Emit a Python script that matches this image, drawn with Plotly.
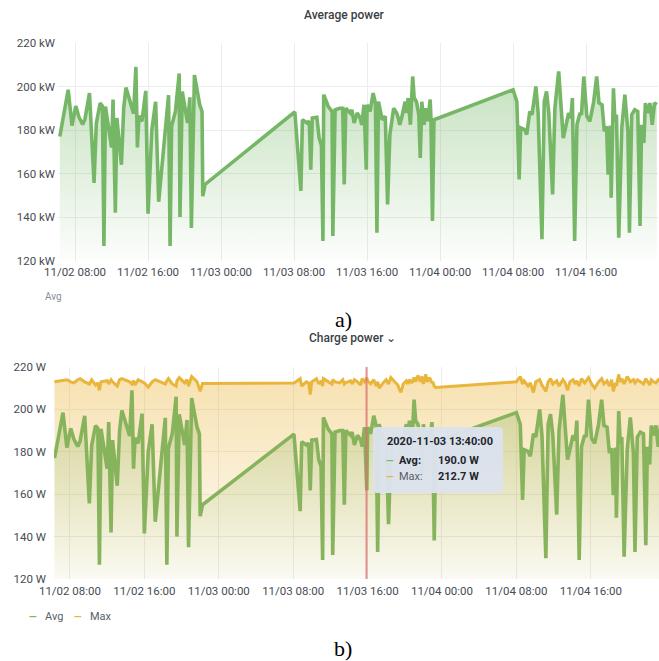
import plotly.graph_objects as go

W, H = 659, 661

# ---------------- data ----------------
day2_times = ["06:20", "07:15", "07:40", "08:05", "08:25", "08:50", "09:05", "09:35", "10:05", "10:20",
              "10:45", "11:00", "11:10", "11:20", "12:00", "12:10", "12:25", "12:35", "13:05", "13:20",
              "13:35", "14:25", "14:40", "14:50", "15:00", "15:20", "15:45", "16:00", "16:25", "16:50",
              "17:10", "18:15", "18:25", "18:35", "19:00", "19:25", "19:30", "19:45", "20:20", "20:35",
              "20:45", "21:05", "21:40", "21:55", "22:00", "22:15"]
day3_times = ["08:05", "08:45", "08:55", "09:25", "09:40", "09:50", "10:00", "10:30", "10:45", "11:00",
              "11:10", "11:15", "11:45", "12:10", "12:15", "12:30", "13:00", "13:20", "13:30", "13:40",
              "14:10", "14:20", "14:35", "14:55", "15:15", "15:25", "15:40", "15:55", "16:00", "16:20",
              "16:40", "16:55", "17:05", "17:15", "17:40", "18:00", "18:15", "18:30", "18:55", "19:15",
              "19:25", "19:35", "19:50", "20:10", "20:20", "20:30", "20:45", "21:00", "21:10", "21:25",
              "21:40", "21:50", "22:00", "22:15", "22:25", "22:40", "22:55", "23:00", "23:10", "23:20"]
day4_times = ["08:00", "08:25", "08:40", "08:50", "09:15", "09:30", "09:50", "10:05", "10:30", "10:45",
              "11:10", "11:25", "11:40", "11:55", "12:20", "12:35", "13:00", "13:15", "13:30", "13:45",
              "14:05", "14:20", "14:30", "14:45", "15:00", "15:20", "15:30", "15:45", "16:05", "16:25",
              "16:50", "17:10", "17:25", "17:45", "18:00", "18:15", "18:25", "18:40", "18:45", "19:00",
              "19:10", "19:20", "19:35", "19:55", "20:15", "20:35", "20:45", "21:00", "21:20", "21:40",
              "21:55", "22:05", "22:20", "22:30", "22:45", "23:00", "23:15", "23:30", "23:45"]
times = ([f"2020-11-02 {t}" for t in day2_times] + [f"2020-11-03 {t}" for t in day3_times]
         + [f"2020-11-04 {t}" for t in day4_times])

avg_power = [177, 198.5, 182, 191, 186, 182.5, 185, 197, 155.7, 183,
             192.4, 191, 126.7, 190.8, 172, 194, 142, 185.5, 164, 190,
             199.5, 187.5, 209, 172, 186.5, 184, 198, 141.5, 180, 193,
             147, 196, 126.7, 181.7, 188.5, 206, 140, 197.7, 183.2, 195,
             135, 205.3, 191.6, 188.5, 149.6, 155,
             188.3, 152, 184.7, 183.2, 184, 161.8, 185.5, 185.8, 176.3, 173,
             129, 196.2, 190.8, 188.5, 131.3, 189.3, 190, 190, 155, 190,
             187.8, 189.3, 183.2, 187.8, 185.5, 182.4, 191.6, 161.8, 191.6, 188.5,
             197, 192.4, 132.8, 193.1, 184.7, 186.3, 145.8, 177.9, 190, 187.8,
             185.5, 182.4, 186.3, 193, 187.8, 194.7, 182.4, 204.6, 194.7, 193,
             187, 167.2, 193, 182.4, 190, 184, 194, 185.5, 138.2, 184.7,
             198.5, 193, 157.3, 181, 180.2, 177.9, 188.5, 187, 200, 187.8,
             129.8, 193, 197.7, 187.8, 150.4, 190, 206.9, 193, 176.3, 181,
             187.8, 185.5, 194.7, 129, 182.4, 187.8, 187, 204.6, 186.3, 184,
             193, 204.6, 192.4, 191.6, 179.4, 181.7, 159.5, 182, 148.9, 199.2,
             184, 187, 130.5, 181, 196.2, 179.4, 132.8, 187, 189.3, 188.5,
             135.9, 182.4, 174, 192.4, 187.8, 192.4, 182.4, 192.4, 191.6]

max_power = [213, 213.5, 214, 213, 212.5, 214, 214.5, 213, 212, 214,
             211.5, 212.5, 209, 213, 213.5, 212, 214, 213, 211, 214,
             214.5, 213, 212, 213.5, 211.5, 214, 213, 212.5, 210.5, 213,
             214, 212, 213.5, 214.5, 212, 211, 213.5, 215, 212.5, 214,
             211, 215.5, 213, 210, 208.5, 212.2,
             212.4, 214.5, 211, 213, 212.5, 207, 213, 214.5, 212, 213.5,
             211, 214.5, 213, 212, 214, 213, 212.5, 214, 212, 212.7,
             213.5, 212, 214, 213, 211.5, 214.5, 213, 215, 213.5, 212,
             214, 211, 213, 210, 212.5, 214, 212, 215, 213, 211.5,
             209.5, 208, 212, 213.5, 212, 214, 212.5, 215, 213, 216,
             213, 215.5, 212, 216.5, 213, 215, 212.5, 213, 211, 210.3,
             213, 215.5, 212, 213.5, 211, 212.5, 208, 213, 214, 211.5,
             208.5, 213, 214.5, 212, 213.5, 211, 214, 212.5, 209, 213,
             214, 212, 213.5, 211, 214.5, 212.5, 213.5, 215, 212, 210,
             213, 214.5, 212, 213.5, 211, 214, 208.5, 212.5, 211, 216.5,
             213, 214.5, 212, 215.5, 213, 214, 212.5, 214, 213, 212,
             214.5, 213, 211.5, 214, 213, 212.5, 214, 213, 212]

y_tick_values = [120, 140, 160, 180, 200, 220]
y_tick_text_kw = ["120 kW", "140 kW", "160 kW", "180 kW", "200 kW", "220 kW"]
y_tick_text_w = ["120 W", "140 W", "160 W", "180 W", "200 W", "220 W"]
x_tick_origin = "2020-11-02 00:00"
crosshair_time = "2020-11-03 15:53"
tooltip_time = "2020-11-03 13:40:00"
tooltip_avg = "190.0 W"
tooltip_max = "212.7 W"

# ---------------- style ----------------
FONT = "Roboto"
TXT = "#464c54"
GRID = "#ececec"
GREEN = "#76b767"
GREEN_B = "#88b35d"
YELLOW = "#eab53b"


def px(x):
    return x / W


def py(y):
    return 1 - y / H


fig = go.Figure()

fig.add_trace(go.Scatter(
    x=times, y=avg_power, mode="lines", name="Avg",
    line=dict(color=GREEN, width=3.6),
    fill="tozeroy",
    fillgradient=dict(type="vertical", start=120, stop=212,
                      colorscale=[[0, "rgba(118,183,103,0.02)"], [1, "rgba(118,183,103,0.45)"]]),
    xaxis="x", yaxis="y", showlegend=False, hoverinfo="skip"))

fig.add_trace(go.Scatter(
    x=times, y=max_power, mode="lines", name="Max",
    line=dict(color=YELLOW, width=3),
    fill="tozeroy",
    fillgradient=dict(type="vertical", start=120, stop=216,
                      colorscale=[[0, "rgba(234,181,59,0.04)"], [1, "rgba(234,181,59,0.40)"]]),
    xaxis="x2", yaxis="y2", showlegend=False, hoverinfo="skip"))

fig.add_trace(go.Scatter(
    x=times, y=avg_power, mode="lines", name="Avg",
    line=dict(color=GREEN_B, width=3.6),
    fill="tozeroy",
    fillgradient=dict(type="vertical", start=120, stop=212,
                      colorscale=[[0, "rgba(140,180,90,0.03)"], [1, "rgba(140,180,90,0.35)"]]),
    xaxis="x2", yaxis="y2", showlegend=False, hoverinfo="skip"))

xcommon = dict(type="date", tickformat="%m/%d %H:%M", dtick=8 * 3600 * 1000, tick0=x_tick_origin,
               showgrid=True, gridcolor=GRID, gridwidth=1, zeroline=False, showline=False, ticks="",
               automargin=False, ticklabelstandoff=3, tickfont=dict(family=FONT, size=11.5, color=TXT))
ycommon = dict(range=[120, 220], tickmode="array", tickvals=y_tick_values, showgrid=True, gridcolor=GRID,
               gridwidth=1, zeroline=False, showline=False, ticks="", automargin=False,
               tickfont=dict(family=FONT, size=11.5, color=TXT))

annotations = []


def text(x, y, s, size=12, color=TXT, family=FONT, xanchor="center", weight=None):
    f = dict(family=family, size=size, color=color)
    if weight:
        f["weight"] = weight
    annotations.append(dict(x=px(x), y=py(y), xref="paper", yref="paper", text=s, showarrow=False,
                            xanchor=xanchor, yanchor="middle", font=f))


text(344, 15, "Average power", size=12, color="#3b3f45", weight=500)
text(343, 319, "a)", size=22, color="#000000", family="Liberation Serif")
text(352, 338, "Charge power ⌄", size=12, color="#3b3f45", weight=500)
text(343, 648, "b)", size=22, color="#000000", family="Liberation Serif")
text(43, 297, "Avg", size=10, color="#8a8e94", xanchor="left")

# legend (bottom panel)
text(27, 616, "<b>—</b>", size=10, color=GREEN_B, xanchor="left")
text(43, 616, "Avg", size=11, color="#5a5e64", xanchor="left")
text(72, 616, "<b>—</b>", size=10, color=YELLOW, xanchor="left")
text(88, 616, "Max", size=11, color="#5a5e64", xanchor="left")

# tooltip
x0, x1, y0, y1, r = 373, 503, 427, 493, 4
tooltip_path = (f"M {px(x0 + r)},{py(y0)} L {px(x1 - r)},{py(y0)} Q {px(x1)},{py(y0)} {px(x1)},{py(y0 + r)} "
                f"L {px(x1)},{py(y1 - r)} Q {px(x1)},{py(y1)} {px(x1 - r)},{py(y1)} "
                f"L {px(x0 + r)},{py(y1)} Q {px(x0)},{py(y1)} {px(x0)},{py(y1 - r)} "
                f"L {px(x0)},{py(y0 + r)} Q {px(x0)},{py(y0)} {px(x0 + r)},{py(y0)} Z")

shapes = [
    dict(type="line", xref="x2", yref="paper", x0=crosshair_time, x1=crosshair_time,
         y0=py(579), y1=py(367), line=dict(color="rgba(222,110,110,0.75)", width=2), layer="above"),
    dict(type="path", xref="paper", yref="paper", path=tooltip_path,
         fillcolor="rgba(220,226,236,0.97)", line=dict(width=0), layer="above"),
]

text(385, 441, f"<b>{tooltip_time}</b>", size=11, color="#22252b", xanchor="left")
text(384, 460, "<b>—</b>", size=10, color=GREEN_B, xanchor="left")
text(397, 460, "<b>Avg:</b>", size=11, color="#22252b", xanchor="left")
text(436, 460, f"<b>{tooltip_avg}</b>", size=11, color="#22252b", xanchor="left")
text(384, 476, "<b>—</b>", size=10, color=YELLOW, xanchor="left")
text(397, 476, "Max:", size=11, color="#5a5e64", xanchor="left")
text(436, 476, f"<b>{tooltip_max}</b>", size=11, color="#22252b", xanchor="left")

fig.update_layout(
    width=W, height=H, margin=dict(l=0, r=0, t=0, b=0, autoexpand=False),
    paper_bgcolor="white", plot_bgcolor="white",
    showlegend=False,
    xaxis=dict(domain=[px(58), px(658)], range=["2020-11-02 06:08", "2020-11-04 23:53"],
               anchor="y", **xcommon),
    yaxis=dict(domain=[py(260.5), py(43)], anchor="x", ticktext=y_tick_text_kw, ticklabelstandoff=2,
               **ycommon),
    xaxis2=dict(domain=[px(54), px(659)], range=["2020-11-02 06:17", "2020-11-04 23:20"],
                anchor="y2", **xcommon),
    yaxis2=dict(domain=[py(579), py(367)], anchor="x2", ticktext=y_tick_text_w, ticklabelstandoff=7,
                **ycommon),
    annotations=annotations,
    shapes=shapes,
)

fig.write_html("out.html", config={"displayModeBar": False},
               post_script="document.body.style.margin='0';document.body.style.padding='0';"
                           "document.body.style.overflow='hidden';")
